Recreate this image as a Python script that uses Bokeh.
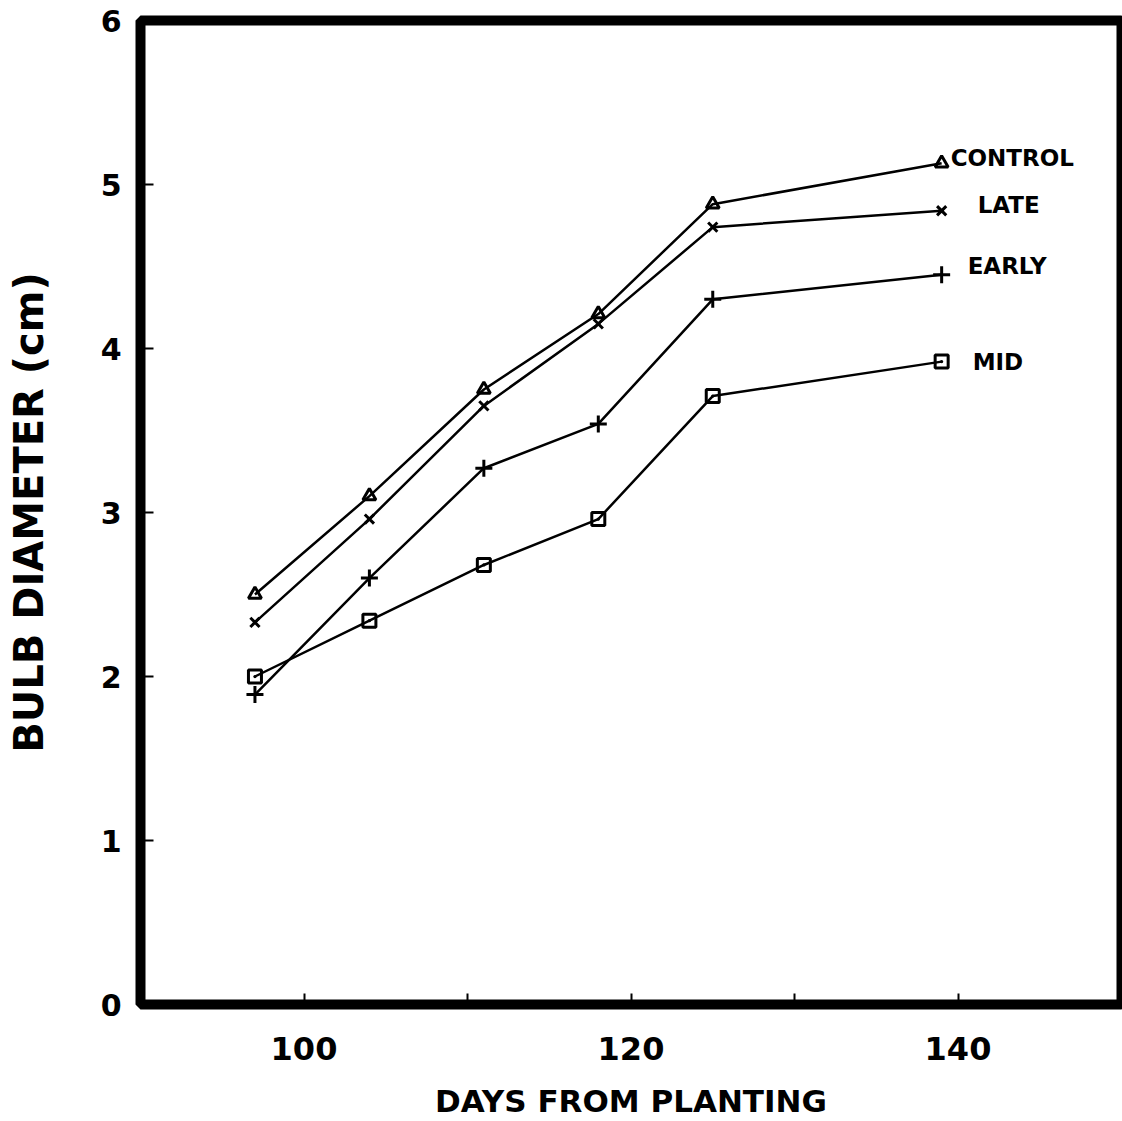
from bokeh.plotting import figure
from bokeh.models import FixedTicker
from bokeh.embed import file_html
from bokeh.resources import INLINE
from bokeh.core.properties import value

# ---- data ----
days = [97, 104, 111, 118, 125, 139]
control = [2.50, 3.10, 3.75, 4.21, 4.88, 5.13]
late = [2.33, 2.96, 3.65, 4.15, 4.74, 4.84]
early = [1.89, 2.60, 3.27, 3.54, 4.30, 4.45]
mid = [2.00, 2.34, 2.68, 2.96, 3.71, 3.92]
series_names = ["CONTROL", "LATE", "EARLY", "MID"]
x_major_ticks = [100, 120, 140]
x_minor_ticks = [110, 130]
y_ticks = [0, 1, 2, 3, 4, 5, 6]

FONT = "DejaVu Sans"

p = figure(
    frame_width=981, frame_height=984,
    x_range=(90, 150), y_range=(0, 6),
    output_backend="svg", toolbar_location=None,
    min_border_left=140, min_border_right=1,
    min_border_top=20, min_border_bottom=117,
    background_fill_color="white", border_fill_color="white",
)

p.outline_line_color = "black"
p.outline_line_width = 10
p.xgrid.visible = False
p.ygrid.visible = False

# x axis
p.xaxis.ticker = FixedTicker(ticks=x_major_ticks, minor_ticks=x_minor_ticks)
p.xaxis.axis_line_color = None
p.xaxis.major_tick_in = 11
p.xaxis.major_tick_out = 0
p.xaxis.minor_tick_in = 11
p.xaxis.minor_tick_out = 0
p.xaxis.major_tick_line_width = 2
p.xaxis.minor_tick_line_width = 2
p.xaxis.major_tick_line_color = "black"
p.xaxis.minor_tick_line_color = "black"
p.xaxis.major_label_text_font = FONT
p.xaxis.major_label_text_font_style = "bold"
p.xaxis.major_label_text_font_size = "32px"
p.xaxis.major_label_text_color = "black"
p.xaxis.major_label_standoff = 32
p.xaxis.axis_label = "DAYS FROM PLANTING"
p.xaxis.axis_label_text_font = FONT
p.xaxis.axis_label_text_font_size = "31px"
p.xaxis.axis_label_text_font_style = "bold"
p.xaxis.axis_label_text_color = "black"
p.xaxis.axis_label_standoff = 20

# y axis
p.yaxis.ticker = FixedTicker(ticks=y_ticks, minor_ticks=[])
p.yaxis.axis_line_color = None
p.yaxis.major_tick_in = 13
p.yaxis.major_tick_out = 0
p.yaxis.minor_tick_in = 0
p.yaxis.minor_tick_out = 0
p.yaxis.major_tick_line_width = 2
p.yaxis.major_tick_line_color = "black"
p.yaxis.major_label_text_font = FONT
p.yaxis.major_label_text_font_style = "bold"
p.yaxis.major_label_text_font_size = "30px"
p.yaxis.major_label_text_color = "black"
p.yaxis.major_label_standoff = 19
p.yaxis.axis_label = "BULB DIAMETER (cm)"
p.yaxis.axis_label_text_font = FONT
p.yaxis.axis_label_text_font_size = "40px"
p.yaxis.axis_label_text_font_style = "bold"
p.yaxis.axis_label_text_color = "black"
p.yaxis.axis_label_standoff = 46

# series lines + markers
series = [control, late, early, mid]
markers = ["triangle", "x", "cross", "square_dot"]
sizes = [13, 13, 17, 13]
for vals, mk, sz in zip(series, markers, sizes):
    p.line(days, vals, line_color="black", line_width=2.5)
    p.scatter(days, vals, marker=mk, size=sz, line_color="black",
              line_width=3, fill_color=None)

# end-of-line labels
last_x = [days[-1]] * len(series)
last_y = [s[-1] for s in series]
p.text(x=last_x, y=last_y, text=series_names,
       x_offset=[9, 36, 26, 31], y_offset=[-5, -6, -9, 0],
       text_font=value(FONT), text_font_style="bold", text_font_size="23px",
       text_color="black", text_align="left", text_baseline="middle")

open("out.html", "w").write(file_html(p, INLINE))
